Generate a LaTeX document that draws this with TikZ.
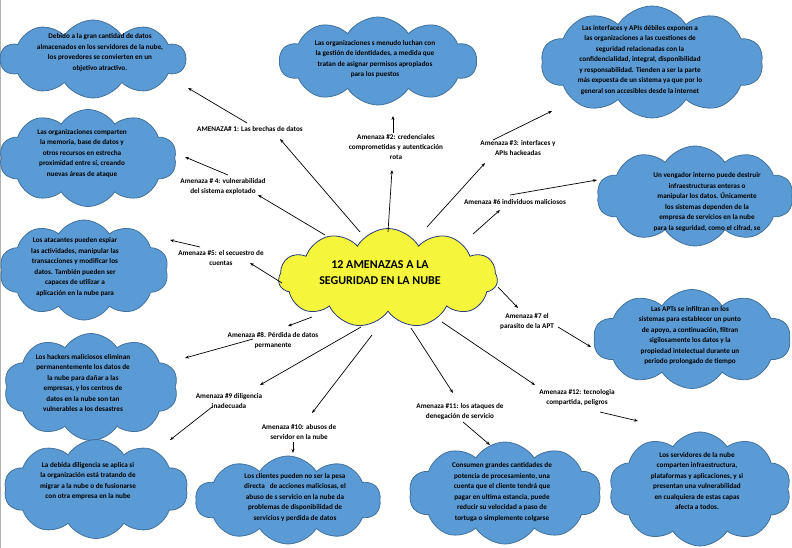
\documentclass[tikz,border=0pt]{standalone}
\usepackage{fontspec}
\setmainfont{Carlito}
\usetikzlibrary{shapes.symbols,arrows.meta}
\definecolor{cloudblue}{RGB}{91,155,213}
\definecolor{cloudedge}{RGB}{65,113,156}
\definecolor{sunyellow}{RGB}{245,245,60}
\definecolor{navyedge}{RGB}{40,60,120}
\tikzset{
 bluecloud/.style={cloud, cloud puffs=10, cloud puff arc=115, cloud ignores aspect, draw=cloudedge, fill=cloudblue, line width=0.8pt, inner sep=0pt},
 centercloud/.style={cloud, cloud puffs=11, cloud puff arc=120, cloud ignores aspect, draw=navyedge, fill=sunyellow, line width=0.8pt, inner sep=0pt},
 cloudtext/.style={align=center, font=\fontsize{7.2}{10.5}\selectfont\bfseries, inner sep=0pt},
 threatlabel/.style={align=center, font=\fontsize{7.2}{10}\selectfont\bfseries, inner sep=0pt},
 titletext/.style={align=center, font=\fontsize{12}{16}\selectfont\bfseries, inner sep=0pt},
 arr/.style={-{Stealth[length=4pt,width=3pt]}, line width=0.7pt, black}
}
\begin{document}
\begin{tikzpicture}[x=1pt,y=-1pt]
\fill[white] (0,0) rectangle (792,548);
\useasboundingbox (0,0) rectangle (792,548);
\draw[gray!60, line width=0.8pt] (0.6,0) -- (0.6,548);

% clouds
\node[bluecloud, minimum width=185pt, minimum height=78pt] (c1) at (93,59) {};
\node[bluecloud, minimum width=197pt, minimum height=88pt] (c2) at (378,61) {};
\node[bluecloud, minimum width=222pt, minimum height=112pt] (c3) at (652,62) {};
\node[bluecloud, minimum width=177pt, minimum height=97pt] (c4) at (88,158) {};
\node[bluecloud, minimum width=196pt, minimum height=100pt] (c5) at (695,196) {};
\node[bluecloud, minimum width=169pt, minimum height=100pt] (c6) at (84,270) {};
\node[bluecloud, minimum width=197pt, minimum height=99pt] (c7) at (692,339) {};
\node[bluecloud, minimum width=174pt, minimum height=107pt] (c8) at (91,387) {};
\node[bluecloud, minimum width=184pt, minimum height=99pt] (c9) at (96,489) {};
\node[bluecloud, minimum width=185pt, minimum height=88pt] (c10) at (288,500) {};
\node[bluecloud, minimum width=192pt, minimum height=102pt] (c11) at (505,493) {};
\node[bluecloud, minimum width=182pt, minimum height=114pt] (c12) at (700,489) {};
\node[centercloud, minimum width=219pt, minimum height=99pt] (center) at (388,278) {};

% cloud texts
\node[cloudtext] (t1) at (100,52.5) {Debido a la gran cantidad de datos\\almacenados en los servidores de la nube,\\los provedores se convierten en un\\objetivo atractivo.};
\node[cloudtext] (t2) at (375,59) {Las organizaciones s menudo luchan con\\la gestión de identidades, a medida que\\tratan de asignar permisos apropiados\\para los puestos};
\node[cloudtext] (t3) at (640,60) {Las interfaces y APIs débiles exponen a\\las organizaciones a las cuestiones de\\seguridad relacionadas con la\\confidencialidad, integral, disponibilidad\\y responsabilidad. Tienden a ser la parte\\más expuesta de un sistema ya que por lo\\general son accesibles desde la internet};
\node[cloudtext] (t4) at (82,153.5) {Las organizaciones comparten\\la memoria, base de datos y\\otros recursos en estrecha\\proximidad entre sí, creando\\nuevas áreas de ataque};
\node[cloudtext] (t5) at (707,202) {Un vengador interno puede destruir\\infraestructuras enteras o\\manipular los datos. Únicamente\\los sistemas dependen de la\\empresa de servicios en la nube\\para la seguridad, como el cifrad, se};
\node[cloudtext] (t6) at (75,267) {Los atacantes pueden espiar\\las actividades, manipular las\\transacciones y modificar los\\datos. También pueden ser\\capaces de utilizar a\\aplicación en la nube para};
\node[cloudtext] (t7) at (690,335.5) {Las APTs se infiltran en los\\sistemas para establecer un punto\\de apoyo, a continuación, filtran\\sigilosamente los datos y la\\propiedad intelectual durante un\\periodo prolongado de tiempo};
\node[cloudtext] (t8) at (83,383) {Los hackers maliciosos eliminan\\permanentemente los datos de\\la nube para dañar a las\\empresas, y los centros de\\datos en la nube son tan\\vulnerables a los desastres};
\node[cloudtext] (t9) at (88,481) {La debida diligencia se aplica si\\la organización está tratando de\\migrar a la nube o de fusionarse\\con otra empresa en la nube};
\node[cloudtext] (t10) at (295,497.5) {Los clientes pueden no ser la pesa\\directa \ \ de acciones maliciosas, el\\abuso de s servicio en la nube da\\problemas de disponibilidad de\\servicios y perdida de datos};
\node[cloudtext] (t11) at (502,492) {Consumen grandes cantidades de\\potencia de procesamiento, una\\cuenta que el cliente tendrá que\\pagar en ultima estancia, puede\\reducir su velocidad a paso de\\tortuga o simplemente colgarse};
\node[cloudtext] (t12) at (697,481) {Los servidores de la nube\\comparten infraestructura,\\plataformas y aplicaciones, y si\\presentan una vulnerabilidad\\en cualquiera de estas capas\\afecta a todos.};
\node[titletext] (title) at (380,273) {12 AMENAZAS A LA\\SEGURIDAD EN LA NUBE};

% labels
\node[threatlabel] (l1) at (250,129) {AMENAZA\# 1: Las brechas de datos};
\node[threatlabel] (l2) at (396,147) {Amenaza \#2: credenciales\\comprometidas y autenticación\\rota};
\node[threatlabel] (l3) at (518,148) {Amenaza \#3: interfaces y\\APIs hackeadas};
\node[threatlabel] (l4) at (223,187) {Amenaza \# 4: vulnerabilidad\\del sistema explotado};
\node[threatlabel] (l5) at (221,258) {Amenaza \#5: el secuestro de\\cuentas};
\node[threatlabel] (l6) at (515,202) {Amenaza \#6 individuos maliciosos};
\node[threatlabel] (l7) at (527,322) {Amenaza \#7 el\\parasito de la APT};
\node[threatlabel] (l8) at (273,341) {Amenaza \#8. Pérdida de datos\\permanente};
\node[threatlabel] (l9) at (229,401) {Amenaza \#9 diligencia\\inadecuada};
\node[threatlabel] (l10) at (299,432) {Amenaza \#10: abusos de\\servidor en la nube};
\node[threatlabel] (l11) at (460,412) {Amenaza \#11: los ataques de\\denegación de servicio};
\node[threatlabel] (l12) at (577,398) {Amenaza \#12: tecnologia\\compartida, peligros};

% connector end points
\coordinate (s1) at (360,232); \coordinate (e1) at (280,139);
\coordinate (f1) at (247,123); \coordinate (g1) at (188,88);
\coordinate (s2) at (388,232); \coordinate (e2) at (392,170);
\coordinate (f2) at (393,133); \coordinate (g2) at (393,116);
\coordinate (s3) at (427,227); \coordinate (e3) at (485,163);
\coordinate (f3) at (493,140); \coordinate (g3) at (552,111);
\coordinate (s4) at (325,235); \coordinate (e4) at (258,195);
\coordinate (f4) at (228,175); \coordinate (g4) at (185,157);
\coordinate (s5) at (282,283); \coordinate (e5) at (250,263);
\coordinate (f5) at (200,247); \coordinate (g5) at (170,240);
\coordinate (s6) at (473,234); \coordinate (e6) at (500,210);
\coordinate (f6) at (510,195); \coordinate (g6) at (597,180);
\coordinate (s7) at (498,287); \coordinate (e7) at (518,308);
\coordinate (f7) at (558,327); \coordinate (g7) at (591,347);
\coordinate (s8) at (312,317); \coordinate (e8) at (288,326);
\coordinate (f8) at (253,339); \coordinate (g8) at (185,358);
\coordinate (s9) at (361,327); \coordinate (e9) at (260,385);
\coordinate (f9) at (212,407); \coordinate (g9) at (170,440);
\coordinate (s10) at (372,335); \coordinate (e10) at (312,413);
\coordinate (f10) at (293,442); \coordinate (g10) at (293,453);
\coordinate (s11) at (411,328); \coordinate (e11) at (453,393);
\coordinate (f11) at (463,422); \coordinate (g11) at (490,445);
\coordinate (s12) at (442,322); \coordinate (e12) at (535,385);
\coordinate (f12) at (600,412); \coordinate (g12) at (638,421);

\foreach \i in {1,...,12}{
  \draw[arr] (s\i) -- (e\i);
  \draw[arr] (f\i) -- (g\i);
}
\end{tikzpicture}
\end{document}
